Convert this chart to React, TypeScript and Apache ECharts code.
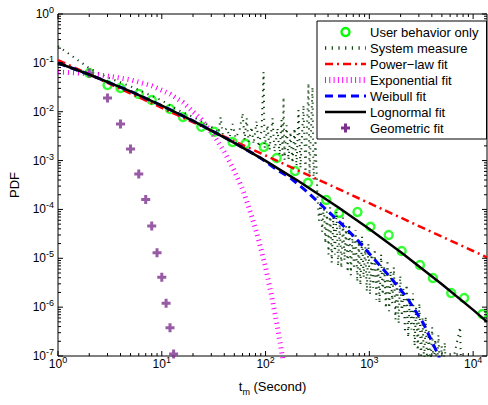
import React, { useEffect, useRef } from 'react';
import * as echarts from 'echarts';

// ---------- data ----------
const userT = [2, 3, 4, 6, 8, 12, 16, 24, 32, 48, 64, 96, 128, 192, 256, 384, 512, 768, 1024, 1536, 2048, 3072, 4096, 6144, 8192, 12288];
const userP = [0.062, 0.0352, 0.0306, 0.0231, 0.0174, 0.0114, 0.0078, 0.0049, 0.0039, 0.0024, 0.0022, 0.0019, 0.00113, 6.1e-4, 3.5e-4, 1.56e-4, 8.5e-5, 8.9e-5, 4.4e-5, 3.0e-5, 1.41e-5, 7.3e-6, 3.95e-6, 1.95e-6, 1.54e-6, 7.2e-7];

const sysT = [
  1, 2, 3, 4, 5, 6, 7, 8, 9, 10, 12, 14, 16, 18, 20, 23, 26, 29, 32,
  35.3, 36.9, 38.6, 42.2, 45.1, 48.2, 51.5, 56.2, 60.1, 62.8, 65.7, 68.7, 73.3, 76.7, 81.9, 85.7, 91.5, 95.7, 97.8, 104.5,
  109.2, 116.7, 122.1, 130.4, 136.4, 142.6, 145.7, 148.9, 152.3, 159.2, 166.4, 173.9, 181.8, 190, 198.6, 207.6, 217, 231.9,
  242.4, 259, 264.8, 283.1, 289.5, 302.6,
  316, 327, 339, 351, 364, 377, 390, 404, 419, 434, 450, 466, 483, 500, 518, 537, 556, 576, 597, 618, 640, 663, 687, 712,
  738, 764, 792, 820, 850, 880, 912, 945, 979, 1014, 1050, 1088, 1127, 1168, 1210, 1253, 1298, 1345, 1393, 1443, 1495,
  1549, 1605, 1662, 1722, 1784, 1848, 1915, 1984, 2055, 2129, 2206, 2285, 2367, 2452, 2541, 2632, 2727, 2825, 2926, 3032,
  3141, 3254, 3371, 3492, 3618, 3748, 3883, 4022, 4167, 4317, 4472, 4633, 4800, 4972, 5151, 5337, 5529,
  5800, 7500, 7700,
];
const sysP = [
  0.22, 0.078, 0.05, 0.04, 0.033, 0.028, 0.024, 0.021, 0.019, 0.017, 0.0135, 0.0112, 0.0097, 0.0086, 0.0079, 0.0067, 0.0058, 0.0051, 0.0045,
  3.67e-3, 7.8e-3, 3.5e-3, 4.6e-3, 3.04e-3, 5.6e-3, 2.9e-3, 4.2e-3, 9.4e-3, 2.64e-3, 7.4e-3, 2.4e-3, 4.9e-3, 2.18e-3, 6.5e-3, 1.9e-3, 4.2e-3, 0.065, 1.8e-3, 5.3e-3,
  1.65e-3, 7.4e-3, 1.5e-3, 4.6e-3, 1.3e-3, 6.8e-3, 1.13e-3, 0.02, 1.03e-3, 5.3e-3, 1.03e-3, 3.85e-3, 8.9e-4, 4.6e-3, 7.7e-4, 0.0108, 7.0e-4, 0.0137,
  5.8e-4, 0.0387, 5.1e-4, 0.032, 4.0e-4, 2.64e-3,
  2.0e-4, 5.9e-5, 1.4e-4, 3.5e-5, 1.2e-4, 2.0e-5, 9e-5, 1.2e-5, 1.1e-4, 8.1e-6, 7e-5, 1.2e-5, 9.1e-5, 6.9e-6, 5e-5, 6.3e-6, 6.8e-5, 9e-6, 4.5e-5, 5.2e-6, 5.0e-5, 4.5e-6, 3e-5, 6e-6,
  3.8e-5, 3.3e-6, 2.2e-5, 2.8e-6, 2.8e-5, 4e-6, 1.7e-5, 2.1e-6, 2.0e-5, 1.8e-6, 1.2e-5, 2.5e-6, 1.55e-5, 1.4e-6, 9e-6, 1.2e-6, 1.2e-5, 1.8e-6, 7e-6, 9.5e-7, 9.3e-6,
  8.3e-7, 5.5e-6, 1.2e-6, 6.6e-6, 5.6e-7, 3.6e-6, 4.6e-7, 4.4e-6, 6.5e-7, 2.4e-6, 3.0e-7, 2.9e-6, 2.4e-7, 1.5e-6, 3.5e-7, 1.9e-6, 1.6e-7, 1e-6, 1.3e-7, 1.2e-6,
  9e-8, 6e-7, 7e-8, 6.5e-7, 6e-8, 3.2e-7, 5e-8, 3.9e-7, 5e-8, 2.2e-7, 4e-8, 2.7e-7, 4e-8, 1.6e-7, 4e-8, 1.9e-7, 3e-8,
  3e-8, 3.9e-7, 3e-8,
];

const powT = [1, 10, 100, 1000, 10000, 13600];
const powP = [0.114, 0.012, 1.27e-3, 1.34e-4, 1.41e-5, 1.04e-5];

const expT = [1, 2, 3, 5, 8, 12, 16, 24, 32, 40, 50, 60, 70, 80, 90, 100, 115, 130, 145, 150];
const expP = [0.065, 0.06, 0.054, 0.045, 0.034, 0.023, 0.0155, 0.007, 0.0032, 0.0015, 6.2e-4, 2.6e-4, 1.0e-4, 4.0e-5, 1.6e-5, 6.5e-6, 1.6e-6, 4.0e-7, 1.0e-7, 6e-8];

const weiT = [1, 2, 5, 10, 20, 40, 67, 90, 130, 174, 253, 361, 526, 767, 1092, 1592, 2318, 3304, 4608, 5000];
const weiP = [0.0993, 0.0578, 0.0261, 0.01334, 0.00649, 0.003, 1.62e-3, 1.12e-3, 6.4e-4, 4.4e-4, 2.27e-4, 1.12e-4, 5.3e-5, 2.37e-5, 1.01e-5, 4.1e-6, 1.54e-6, 4.7e-7, 1.05e-7, 6e-8];

const logT = [1, 2, 5, 10, 20, 50, 100, 200, 500, 1000, 2000, 5000, 10000, 13600];
const logP = [0.0993, 0.0578, 0.0261, 0.01334, 0.00649, 0.0023, 9.84e-4, 3.99e-4, 1.11e-4, 3.98e-5, 1.35e-5, 2.95e-6, 8.8e-7, 5.0e-7];

const geoT = [2, 3, 4, 5, 6, 7, 8, 9, 10, 11, 12, 13];
const geoP = [0.062, 0.019, 5.6e-3, 1.73e-3, 5.3e-4, 1.6e-4, 4.6e-5, 1.3e-5, 4.1e-6, 1.2e-6, 3.8e-7, 1.1e-7];

const seriesNames = ['User behavior only', 'System measure', 'Power\u2212law fit', 'Exponential fit', 'Weibull fit', 'Lognormal fit', 'Geometric fit'];

const majorXTicks = [1, 10, 100, 1000, 10000];
const xDecades = [1, 10, 100, 1000];
const majorYTicks = [1e-7, 1e-6, 1e-5, 1e-4, 1e-3, 1e-2, 1e-1, 1];
const yDecades = [1e-7, 1e-6, 1e-5, 1e-4, 1e-3, 1e-2, 1e-1];
const minorMult = [2, 3, 4, 5, 6, 7, 8, 9];

const X_MIN = 1;
const X_MAX = 13600;
const Y_MIN = 1e-7;
const Y_MAX = 1;

const FONT = "'Liberation Sans', Arial, Helvetica, sans-serif";
const C_GREEN = '#00ff00';
const C_SYS = '#0b3f0b';
const C_RED = '#ff0000';
const C_MAG = '#ff00ff';
const C_BLUE = '#0000ff';
const C_PURPLE = '#7e2f8e';

const PLUS_PATH = 'path://M3,0H6V3H9V6H6V9H3V6H0V3H3Z';

const pairs = (t: number[], p: number[]) => t.map((v, i) => [v, p[i]]);

const styles = {
  sys: { color: C_SYS, width: 2, type: [1.2, 4.8] as number[] },
  pow: { color: C_RED, width: 2.5, type: [8, 4, 2, 4] as number[] },
  exp: { color: C_MAG, width: 5, type: [1, 4] as number[] },
  wei: { color: C_BLUE, width: 3, type: [8, 5] as number[] },
  log: { color: '#000', width: 2.5, type: 'solid' as any },
};
const legendStyles = {
  sys: { color: C_SYS, width: 3.5, type: [1.2, 5.5] as number[] },
  exp: { color: C_MAG, width: 6, type: [1, 3.3] as number[] },
};

export default function App() {
  const ref = useRef<HTMLDivElement>(null);

  useEffect(() => {
    document.body.style.margin = '0';
    const chart = echarts.init(ref.current as HTMLDivElement, null, { renderer: 'svg' });

    const tickData: number[][] = [];
    majorXTicks.forEach((v) => tickData.push([v, Y_MIN, 0]));
    xDecades.forEach((d) => minorMult.forEach((m) => { if (d * m < X_MAX) tickData.push([d * m, Y_MIN, 1]); }));
    majorYTicks.forEach((v) => tickData.push([X_MIN, v, 2]));
    yDecades.forEach((d) => minorMult.forEach((m) => tickData.push([X_MIN, d * m, 3])));

    const labelFormatter = (v: number) => {
      const e = Math.log10(v);
      const r = Math.round(e);
      if (Math.abs(e - r) > 1e-6) return '';
      return `{b|10}{s|${r}}`;
    };
    const rich = {
      b: { fontSize: 12, fontFamily: FONT, color: '#000', lineHeight: 14 },
      s: { fontSize: 9, fontFamily: FONT, color: '#000', lineHeight: 9, padding: [0, 0, 8, 0] },
    };

    // legend drawn with graphic elements
    const lx0 = 325;
    const lx1 = 366;
    const lcx = 345.5;
    const rowY = [32, 48, 64, 80, 96, 112, 128];
    const Z = 100;
    const lineSample = (y: number, st: any) => ({
      type: 'line', z: Z, silent: true,
      shape: { x1: lx0, y1: y, x2: lx1, y2: y },
      style: { stroke: st.color, lineWidth: st.width, lineDash: st.type === 'solid' ? null : st.type },
    });
    const plusPts = (cx: number, cy: number) => [
      [cx - 1.5, cy - 4.5], [cx + 1.5, cy - 4.5], [cx + 1.5, cy - 1.5], [cx + 4.5, cy - 1.5], [cx + 4.5, cy + 1.5], [cx + 1.5, cy + 1.5],
      [cx + 1.5, cy + 4.5], [cx - 1.5, cy + 4.5], [cx - 1.5, cy + 1.5], [cx - 4.5, cy + 1.5], [cx - 4.5, cy - 1.5], [cx - 1.5, cy - 1.5],
    ];
    const legendEls: any[] = [
      { type: 'rect', z: Z - 1, silent: true, shape: { x: 317, y: 21, width: 169.5, height: 118 }, style: { fill: '#fff', stroke: '#000', lineWidth: 1 } },
      { type: 'circle', z: Z, silent: true, shape: { cx: lcx, cy: rowY[0], r: 4 }, style: { fill: 'none', stroke: C_GREEN, lineWidth: 2.4 } },
      lineSample(rowY[1], legendStyles.sys),
      lineSample(rowY[2], styles.pow),
      lineSample(rowY[3], legendStyles.exp),
      lineSample(rowY[4], styles.wei),
      lineSample(rowY[5], styles.log),
      { type: 'polygon', z: Z, silent: true, shape: { points: plusPts(lcx, rowY[6]) }, style: { fill: C_PURPLE } },
    ];
    seriesNames.forEach((n, i) => {
      legendEls.push({
        type: 'text', z: Z, silent: true, x: 370, y: rowY[i],
        style: { text: n, fill: '#000', font: `13px ${FONT}`, textVerticalAlign: 'middle', verticalAlign: 'middle', align: 'left' },
      });
    });

    const lineSeries = (name: string, t: number[], p: number[], st: any) => ({
      name, type: 'line', data: pairs(t, p), symbol: 'none', showSymbol: false, clip: true, silent: true,
      lineStyle: { color: st.color, width: st.width, type: st.type, cap: 'butt' },
      itemStyle: { color: st.color },
    });

    chart.setOption({
      animation: false,
      backgroundColor: '#fff',
      grid: { left: 57, right: 1, top: 14, bottom: 49, show: true, borderColor: '#000', borderWidth: 1, backgroundColor: 'transparent' },
      xAxis: {
        type: 'log', logBase: 10, min: X_MIN, max: X_MAX,
        axisLine: { show: false }, axisTick: { show: false }, splitLine: { show: false }, minorTick: { show: false },
        axisLabel: { formatter: labelFormatter, rich, margin: 1, showMaxLabel: false, hideOverlap: false },
        name: '{t|t}{m|m}{r| (Second)}', nameLocation: 'middle', nameGap: 23,
        nameTextStyle: {
          rich: {
            t: { fontSize: 13, fontFamily: FONT, color: '#000', lineHeight: 15 },
            m: { fontSize: 9, fontFamily: FONT, color: '#000', lineHeight: 9, padding: [10, 0, 0, 0] },
            r: { fontSize: 13, fontFamily: FONT, color: '#000', lineHeight: 15 },
          },
        },
      },
      yAxis: {
        type: 'log', logBase: 10, min: Y_MIN, max: Y_MAX,
        axisLine: { show: false }, axisTick: { show: false }, splitLine: { show: false }, minorTick: { show: false },
        axisLabel: { formatter: labelFormatter, rich, margin: 4 },
        name: 'PDF', nameLocation: 'middle', nameGap: 37,
        nameTextStyle: { fontSize: 13, fontFamily: FONT, color: '#000' },
      },
      graphic: { elements: legendEls },
      series: [
        {
          name: seriesNames[0], type: 'scatter', data: pairs(userT, userP), symbol: 'circle', symbolSize: 8, silent: true,
          itemStyle: { color: 'rgba(0,0,0,0)', borderColor: C_GREEN, borderWidth: 2.4 },
        },
        lineSeries(seriesNames[1], sysT, sysP, styles.sys),
        lineSeries(seriesNames[2], powT, powP, styles.pow),
        lineSeries(seriesNames[3], expT, expP, styles.exp),
        lineSeries(seriesNames[4], weiT, weiP, styles.wei),
        lineSeries(seriesNames[5], logT, logP, styles.log),
        {
          name: seriesNames[6], type: 'scatter', data: pairs(geoT, geoP), symbol: PLUS_PATH, symbolSize: 9, silent: true,
          itemStyle: { color: C_PURPLE },
        },
        {
          type: 'custom', silent: true, z: 5, data: tickData, clip: false,
          renderItem: (params: any, api: any) => {
            const cs = params.coordSys;
            const kind = api.value(2);
            const pt = api.coord([api.value(0), api.value(1)]);
            const style = { stroke: '#000', lineWidth: 1, fill: null };
            const len = kind === 0 || kind === 2 ? 5 : 3;
            if (kind < 2) {
              const x = pt[0];
              const yb = cs.y + cs.height;
              return {
                type: 'group', children: [
                  { type: 'line', shape: { x1: x, y1: yb, x2: x, y2: yb - len }, style },
                  { type: 'line', shape: { x1: x, y1: cs.y, x2: x, y2: cs.y + len }, style },
                ],
              };
            }
            const y = pt[1];
            const xr = cs.x + cs.width;
            return {
              type: 'group', children: [
                { type: 'line', shape: { x1: cs.x, y1: y, x2: cs.x + len, y2: y }, style },
                { type: 'line', shape: { x1: xr, y1: y, x2: xr - len, y2: y }, style },
              ],
            };
          },
        },
      ],
    });

    return () => chart.dispose();
  }, []);

  return <div ref={ref} style={{ position: 'fixed', left: 0, top: 0, width: 488, height: 405 }} />;
}
